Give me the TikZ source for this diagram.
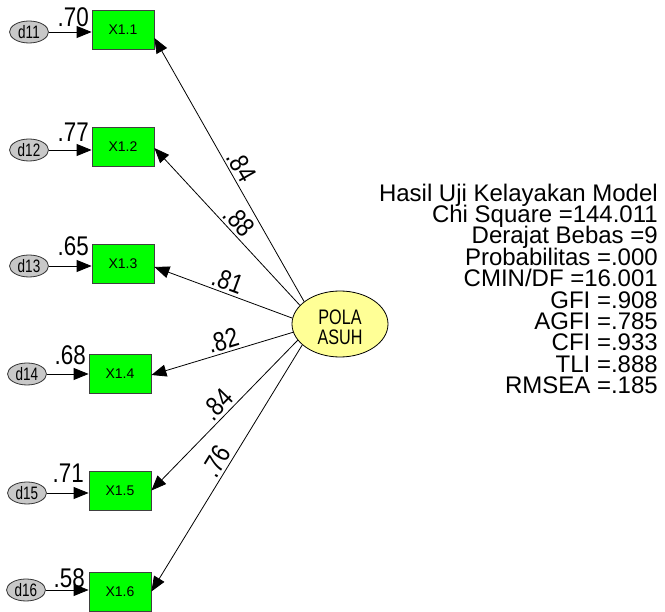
\documentclass[tikz,border=0pt]{standalone}
\usepackage{fontspec}
\usepackage{graphicx}
\setmainfont{Liberation Sans}
\usetikzlibrary{arrows.meta,shapes.geometric}
\definecolor{latfill}{RGB}{255,255,150}
\definecolor{errfill}{RGB}{200,200,200}
\definecolor{obsfill}{RGB}{0,255,0}
\newcommand{\cf}[1]{\scalebox{0.83}[1]{#1}}
\newcommand{\dl}[1]{\scalebox{0.75}[1]{#1}}
\newcommand{\lt}[1]{\scalebox{0.77}[1]{#1}}
\newcommand{\fitfont}{\fontsize{24}{21.4}\selectfont\lineskiplimit=-100pt\relax}
\newcommand{\latfont}{\fontsize{21}{19.5}\selectfont\lineskiplimit=-100pt\relax}
\begin{document}
\begin{tikzpicture}[x=1pt,y=-1pt,
  obs/.style={draw=black!75, fill=obsfill, minimum width=62pt, minimum height=39pt, inner sep=0pt, font=\fontsize{14}{14}\selectfont, line width=0.8pt},
  err/.style={ellipse, draw=black!80, fill=errfill, minimum width=39pt, minimum height=22pt, inner sep=0pt, font=\fontsize{18}{18}\selectfont, line width=0.8pt},
  lat/.style={ellipse, draw=black, fill=latfill, minimum width=96pt, minimum height=66pt, inner sep=0pt, line width=0.8pt},
  lattext/.style={align=center, inner sep=0pt, font=\latfont},
  arr/.style={-{Triangle[length=15pt,width=12pt]}, line width=0.8pt},
  coef/.style={font=\fontsize{27}{27}\selectfont, inner sep=0pt},
  scoef/.style={coef, sloped, above=2.5pt},
  ]
\useasboundingbox (0,0) rectangle (665,612);
% observed
\node[obs] (x11) at (123,30) {X1.1};
\node[obs] (x12) at (123,147) {X1.2};
\node[obs] (x13) at (123,263.5) {X1.3};
\node[obs] (x14) at (120,373.5) {X1.4};
\node[obs] (x15) at (120,490.5) {X1.5};
\node[obs] (x16) at (120,591.5) {X1.6};
% errors
\node[err] (d11) at (29,32) {\dl{d11}};
\node[err] (d12) at (29,150) {\dl{d12}};
\node[err] (d13) at (29,266) {\dl{d13}};
\node[err] (d14) at (27,374) {\dl{d14}};
\node[err] (d15) at (27,493) {\dl{d15}};
\node[err] (d16) at (26,590) {\dl{d16}};
% latent
\node[lat] (pola) at (340,324) {};
\node[lattext] (polatext) at ([yshift=-3.5pt]pola.center) {\lt{POLA}\\\lt{ASUH}};
% error arrows
\draw[arr] (d11.east) -- (d11.east -| x11.west);
\draw[arr] (d12.east) -- (d12.east -| x12.west);
\draw[arr] (d13.east) -- (d13.east -| x13.west);
\draw[arr] (d14.east) -- (d14.east -| x14.west);
\draw[arr] (d15.east) -- (d15.east -| x15.west);
\draw[arr] (d16.east) -- (d16.east -| x16.west);
% error coefficients
\node[coef, anchor=south east] (c11) at (89,27) {\cf{.70}};
\node[coef, anchor=south east] (c12) at (89,142) {\cf{.77}};
\node[coef, anchor=south east] (c13) at (89,256) {\cf{.65}};
\node[coef, anchor=south east] (c14) at (86,365) {\cf{.68}};
\node[coef, anchor=south east] (c15) at (84,483) {\cf{.71}};
\node[coef, anchor=south east] (c16) at (85,588) {\cf{.58}};
% loadings
\draw[arr] (pola.148) -- node[scoef, pos=0.49] {\cf{.84}} ([yshift=-8pt]x11.east);
\draw[arr] (pola.155) -- node[scoef, pos=0.48] {\cf{.88}} ([yshift=-1pt]x12.east);
\draw[arr] (pola.173) -- node[scoef, pos=0.50] {\cf{.81}} ([yshift=-3.5pt]x13.east);
\draw[arr] (pola.190) -- node[scoef, pos=0.47] {\cf{.82}} ([yshift=-1.5pt]x14.east);
\draw[arr] (pola.201) -- node[scoef, pos=0.485] {\cf{.84}} (x15.east);
\draw[arr] (pola.209) -- node[scoef, pos=0.50] {\cf{.76}} (x16.east);
% fit summary
\node[anchor=north east, align=right, inner sep=0pt, font=\fitfont] (fit) at (658,183.5) {Hasil Uji Kelayakan Model\\Chi Square =144.011\\Derajat Bebas =9\\Probabilitas =.000\\CMIN/DF =16.001\\GFI =.908\\AGFI =.785\\CFI =.933\\TLI =.888\\RMSEA =.185};
\end{tikzpicture}
\end{document}
